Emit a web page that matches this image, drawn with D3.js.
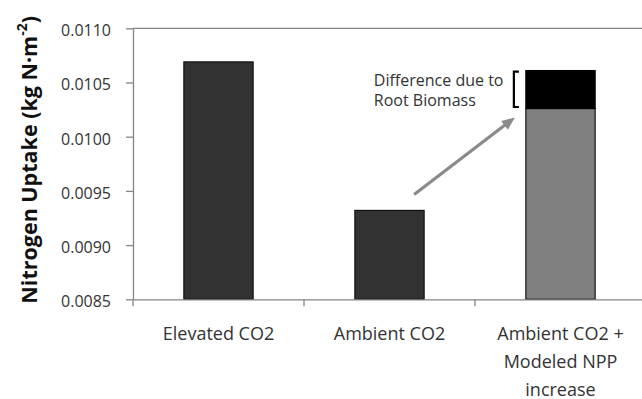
<!DOCTYPE html>
<html>
<head>
<meta charset="utf-8">
<script src="https://cdn.jsdelivr.net/npm/d3@7/dist/d3.min.js"></script>
<style>
  html, body { margin: 0; padding: 0; background: #fff; }
  svg { display: block; }
  text { font-family: "Open Sans", sans-serif; }
</style>
</head>
<body>
<svg id="chart" width="642" height="399"></svg>
<script>
// Nitrogen uptake per treatment (kg N·m⁻²)
const categories = ["Elevated CO2", "Ambient CO2", "Ambient CO2 + Modeled NPP increase"];
const categoryLines = [["Elevated CO2"], ["Ambient CO2"], ["Ambient CO2 +", "Modeled NPP", "increase"]];
const baseUptake = [0.01069, 0.00932, 0.01026];
const rootBiomassExtra = [0, 0, 0.00035];
const yTicks = [0.0085, 0.0090, 0.0095, 0.0100, 0.0105, 0.0110];
const annotationLines = ["Difference due to", "Root Biomass"];

const W = 642, H = 399;
const plot = { left: 133, top: 28.3, right: 646, bottom: 299.3 };
const axisColor = "#858585";

const svg = d3.select("#chart");

const y = d3.scaleLinear()
  .domain([yTicks[0], yTicks[yTicks.length - 1]])
  .range([plot.bottom, plot.top]);

const x = d3.scaleBand()
  .domain(categories)
  .range([plot.left, plot.right])
  .padding(0);

const barW = x.bandwidth() * 0.405;
const barX = c => x(c) + (x.bandwidth() - barW) / 2;

// top border of the plot area
svg.append("line")
  .attr("x1", plot.left).attr("x2", plot.right)
  .attr("y1", y(yTicks[yTicks.length - 1])).attr("y2", y(yTicks[yTicks.length - 1]))
  .attr("stroke", axisColor).attr("stroke-width", 1.3);

// base bars
const rows = categories.map((c, i) => ({ c, base: baseUptake[i], extra: rootBiomassExtra[i], i }));
svg.append("g").selectAll("rect.base")
  .data(rows).join("rect")
  .attr("class", "base")
  .attr("x", d => barX(d.c))
  .attr("y", d => y(d.base))
  .attr("width", barW)
  .attr("height", d => y(yTicks[0]) - y(d.base))
  .attr("fill", d => d.extra > 0 ? "#808080" : "#323232")
  .attr("stroke", "#111")
  .attr("stroke-width", 1.2);

// root-biomass increment stacked on top
svg.append("g").selectAll("rect.extra")
  .data(rows.filter(d => d.extra > 0)).join("rect")
  .attr("class", "extra")
  .attr("x", d => barX(d.c))
  .attr("y", d => y(d.base + d.extra))
  .attr("width", barW)
  .attr("height", d => y(d.base) - y(d.base + d.extra))
  .attr("fill", "#000")
  .attr("stroke", "#000")
  .attr("stroke-width", 1.2);

// y axis
const yAxis = svg.append("g")
  .attr("transform", `translate(${plot.left},0)`)
  .call(d3.axisLeft(y).tickValues(yTicks).tickSize(7).tickSizeOuter(0)
    .tickPadding(15).tickFormat(d3.format(".4f")));
yAxis.select(".domain").attr("stroke", axisColor).attr("stroke-width", 1.3);
yAxis.selectAll(".tick line").attr("stroke", axisColor).attr("stroke-width", 1.3);
yAxis.selectAll(".tick text")
  .attr("font-size", 16).attr("fill", "#333").attr("dy", "0.46em")
  .style("font-family", "'Open Sans', sans-serif");

// x axis line with category boundary ticks
const xAxis = svg.append("g")
  .attr("transform", `translate(0,${plot.bottom})`)
  .call(d3.axisBottom(x).tickSize(0).tickSizeOuter(0).tickFormat(""));
xAxis.select(".domain").attr("stroke", axisColor).attr("stroke-width", 1.3);
svg.append("g").selectAll("line")
  .data(categories).join("line")
  .attr("x1", d => x(d)).attr("x2", d => x(d))
  .attr("y1", plot.bottom).attr("y2", plot.bottom + 7)
  .attr("stroke", axisColor).attr("stroke-width", 1.3);

// category labels
const labels = svg.append("g").selectAll("text")
  .data(categories).join("text")
  .attr("x", d => x(d) + x.bandwidth() / 2)
  .attr("y", plot.bottom + 41)
  .attr("text-anchor", "middle")
  .attr("font-size", 18)
  .attr("fill", "#333");
labels.selectAll("tspan")
  .data((d, i) => categoryLines[i]).join("tspan")
  .attr("x", function () { return d3.select(this.parentNode).attr("x"); })
  .attr("dy", (d, j) => j === 0 ? 0 : 27.6)
  .text(d => d);

// y axis title
const title = svg.append("text")
  .attr("transform", `translate(37,${(plot.top + plot.bottom) / 2 - 4}) rotate(-90)`)
  .attr("text-anchor", "middle")
  .attr("font-size", 21.5)
  .attr("font-weight", "bold")
  .attr("fill", "#111");
title.append("tspan").text("Nitrogen Uptake (kg N·m");
title.append("tspan").attr("font-size", 14).attr("dy", -10).text("-2");
title.append("tspan").attr("dy", 10).text(")");

// annotation: bracket spanning the root-biomass increment
const stacked = rows.find(d => d.extra > 0);
const bx = barX(stacked.c) - 12;
const bTop = y(stacked.base + stacked.extra) + 1;
const bBot = y(stacked.base) - 1.5;
svg.append("path")
  .attr("d", `M${bx + 5},${bTop} H${bx} V${bBot} H${bx + 5}`)
  .attr("fill", "none").attr("stroke", "#000").attr("stroke-width", 2.2);

// annotation text
svg.append("g").selectAll("text")
  .data(annotationLines).join("text")
  .attr("x", bx - 140)
  .attr("y", (d, i) => 85.5 + i * 20.7)
  .attr("text-anchor", "start")
  .attr("font-size", 16)
  .attr("fill", "#333")
  .text(d => d);

// arrow from the ambient bar towards the modeled bar
const ambient = rows[1];
const ax1 = barX(ambient.c) + barW - 10, ay1 = y(ambient.base) - 16;
const ax2 = bx + 1, ay2 = y(stacked.base) + 9;
const headLen = 13;
const len = Math.hypot(ax2 - ax1, ay2 - ay1);
const ux = (ax2 - ax1) / len, uy = (ay2 - ay1) / len;
svg.append("line")
  .attr("x1", ax1).attr("y1", ay1)
  .attr("x2", ax2 - ux * headLen * 0.8).attr("y2", ay2 - uy * headLen * 0.8)
  .attr("stroke", "#8a8a8a").attr("stroke-width", 3.2);
svg.append("path")
  .attr("d", `M${ax2},${ay2}
    L${ax2 - ux * headLen - uy * 5.5},${ay2 - uy * headLen + ux * 5.5}
    L${ax2 - ux * headLen + uy * 5.5},${ay2 - uy * headLen - ux * 5.5} Z`)
  .attr("fill", "#8a8a8a");
</script>
</body>
</html>
